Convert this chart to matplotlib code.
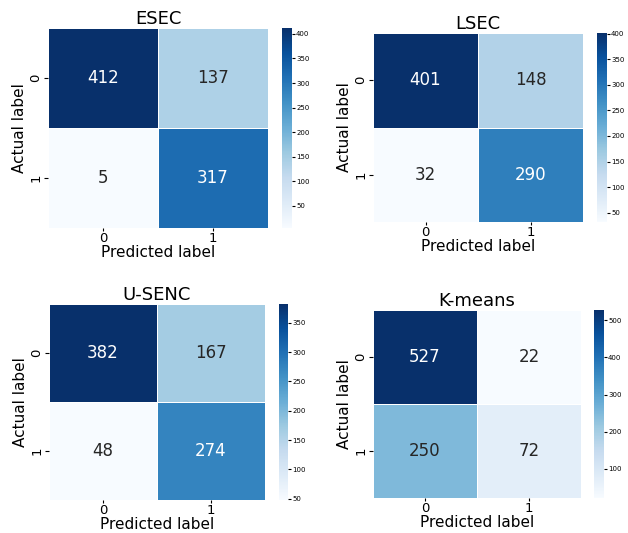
import numpy as np
import matplotlib
matplotlib.use('Agg')
import matplotlib.pyplot as plt
import seaborn as sns

titles = ['ESEC', 'LSEC', 'U-SENC', 'K-means']
esec = [[412, 137], [5, 317]]
lsec = [[401, 148], [32, 290]]
usenc = [[382, 167], [48, 274]]
kmeans = [[527, 22], [250, 72]]
class_labels = ['0', '1']

W, H = 628, 533

# pixel boxes (left, top, right, bottom) for heatmap and colorbar
boxes = [
  ((48, 28, 268, 228), (282, 28, 292, 228)),
  ((373, 33, 583, 222), (597, 33, 607, 222)),
  ((49, 304, 265, 500), (279, 304, 288, 500)),
  ((373, 310, 581, 498), (594, 310, 604, 498)),
]

def px_axes(fig, b):
  l, t, r, bt = b
  return fig.add_axes([l / W, 1 - bt / H, (r - l) / W, (bt - t) / H])


fig = plt.figure(figsize=(W / 100, H / 100), dpi=100)

for title, cm, (hb, cb) in zip(titles, [esec, lsec, usenc, kmeans], boxes):
  ax = px_axes(fig, hb)
  cax = px_axes(fig, cb)
  sns.heatmap(np.array(cm), annot=True, fmt='d', cmap='Blues',
              linewidths=0.5, linecolor='white',
              annot_kws={'size': 12}, ax=ax, cbar_ax=cax,
              xticklabels=class_labels, yticklabels=class_labels)
  ax.set_title(title, fontsize=13, pad=3)
  ax.set_xlabel('Predicted label', fontsize=11, labelpad=0)
  ax.set_ylabel('Actual label', fontsize=11, labelpad=2)
  ax.tick_params(axis='y', labelsize=9.5, length=3, pad=1)
  ax.tick_params(axis='x', labelsize=9.5, length=2, pad=1)
  plt.setp(ax.get_yticklabels(), rotation=90, va='center')
  plt.setp(ax.get_xticklabels(), rotation=0)
  cax.tick_params(labelsize=5, length=2, pad=1)
  cax.yaxis.set_major_locator(matplotlib.ticker.MultipleLocator(100 if title == 'K-means' else 50))

plt.savefig('out.png', dpi=100)
